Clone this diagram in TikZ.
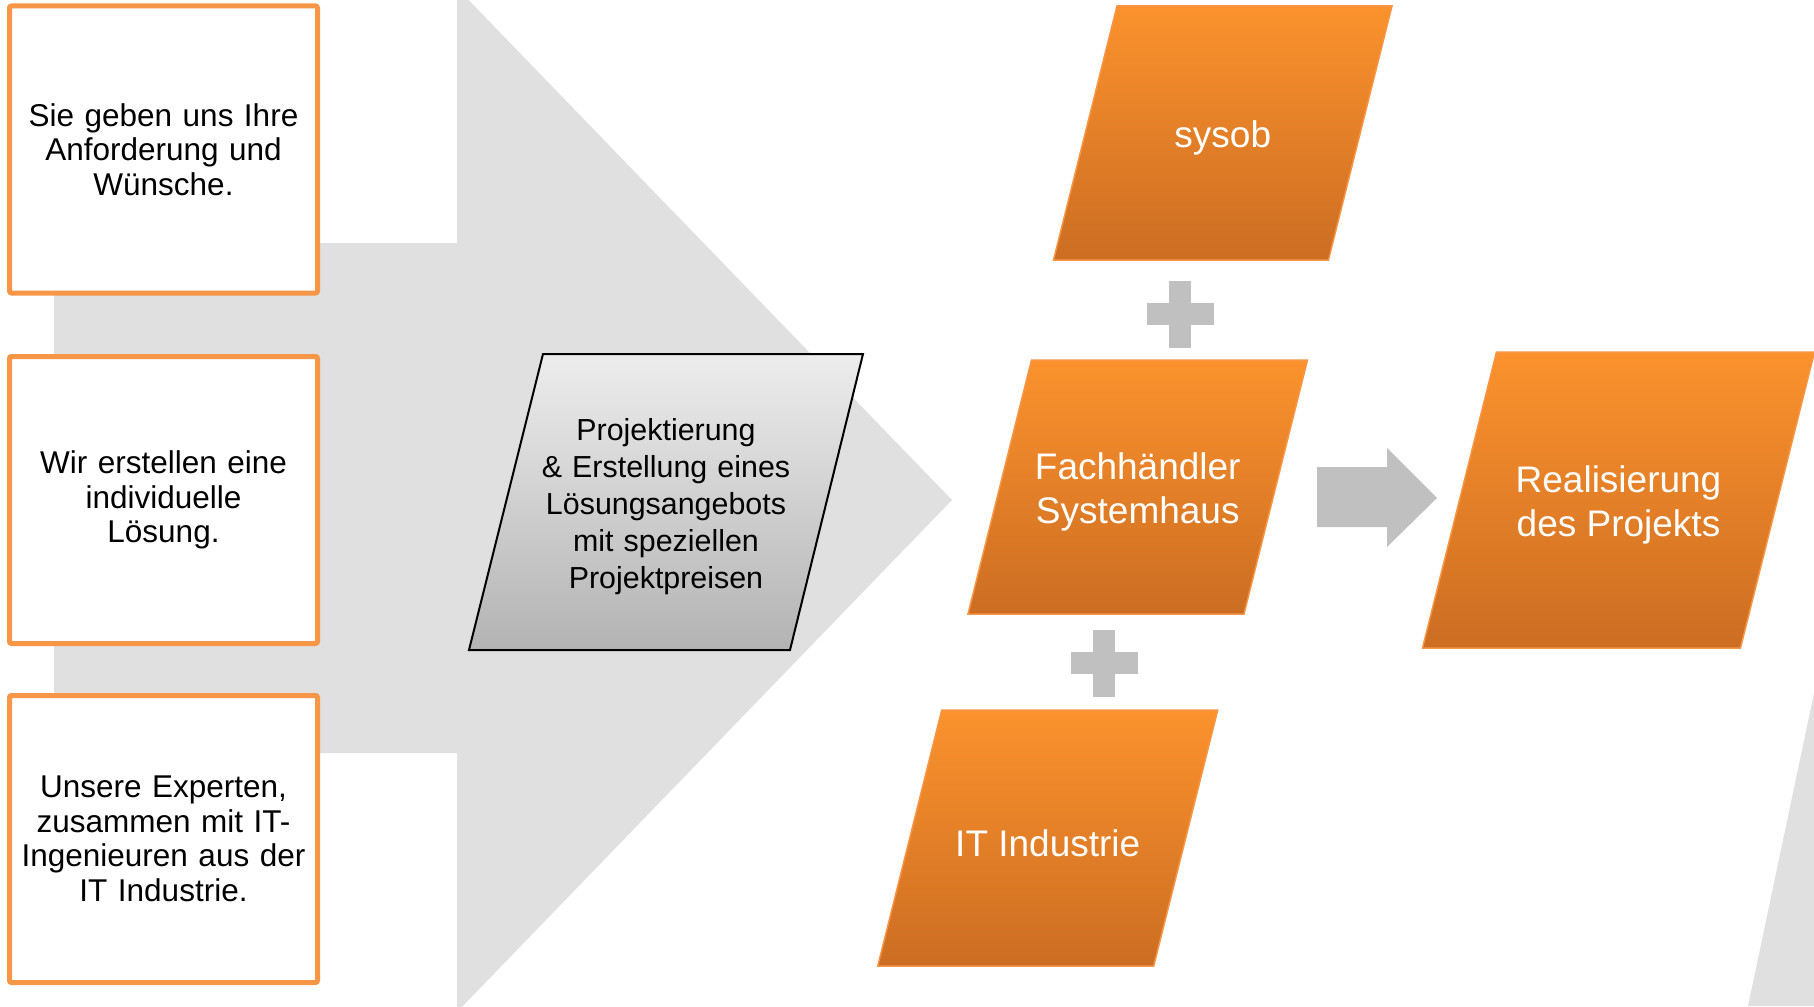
\documentclass[tikz,border=0pt]{standalone}
\usepackage{fontspec}
\setmainfont{Liberation Sans}
\usetikzlibrary{positioning}

\definecolor{boxorange}{HTML}{F79646}
\definecolor{paratop}{HTML}{FB922D}
\definecolor{parabottom}{HTML}{CC6D22}
\definecolor{bggray}{HTML}{E0E0E0}
\definecolor{plusgray}{HTML}{C0C0C0}
\definecolor{greytop}{HTML}{EDEDED}
\definecolor{greybottom}{HTML}{B3B3B3}

\begin{document}
\begin{tikzpicture}[x=1pt,y=-1pt]
    \tikzstyle{stepbox}=[rectangle,draw=boxorange,line width=5pt,fill=white,rounded corners=2pt,minimum width=308pt,minimum height=287pt,inner sep=0pt,text width=300pt,align=center,font=\fontsize{31.5}{34.5}\selectfont]
    \tikzstyle{offer}=[text width=320pt,align=center,yshift=-5pt,font=\fontsize{30.4}{37}\selectfont]
    \tikzstyle{partner}=[text=white,align=center,yshift=-5pt,font=\fontsize{37}{44}\selectfont]
    \tikzstyle{orangepara}=[top color=paratop,bottom color=parabottom,draw=boxorange,line width=1.5pt]

    \useasboundingbox (0,0) rectangle (1814,1006);
    \clip (0,0) rectangle (1814,1006);

    % big arrow in the back
    \fill[bggray] (54,243) -- (457,243) -- (457,-12) -- (952,500) -- (457,1012) -- (457,753) -- (54,753) -- cycle;
    \fill[bggray] (1814,693) -- (1748,1006) -- (1814,1006) -- cycle;

    \foreach \name/\y/\txt in {wishes/149.5/{Sie geben uns Ihre\\Anforderung und\\Wünsche.},
                               solution/500/{Wir erstellen eine\\individuelle\\Lösung.},
                               experts/839/{Unsere Experten,\\zusammen mit IT-\\Ingenieuren aus der\\IT Industrie.}}
        \node[stepbox] (\name) at (163.5,\y) {\txt};

    \path[top color=greytop,bottom color=greybottom,draw=black,line width=2pt]
        (543,354) -- (863,354) -- (790,650) -- (469,650) -- cycle;
    \node[offer] (offer) at (666,502) {Projektierung\\\& Erstellung eines\\Lösungsangebots\\mit speziellen\\Projektpreisen};

    \foreach \name/\cx/\cy/\w/\h/\txt in {sysob/1222.75/133/275/254/{sysob},
                                          dealer/1137.75/487/276/254/{Fachhändler\\Systemhaus},
                                          industry/1047.75/838/276/256/{IT Industrie},
                                          project/1618.5/500/318/296/{Realisierung\\des Projekts}}
    {
        \path[orangepara] (\cx-\w/2+\h/8,\cy-\h/2) -- (\cx+\w/2+\h/8,\cy-\h/2)
            -- (\cx+\w/2-\h/8,\cy+\h/2) -- (\cx-\w/2-\h/8,\cy+\h/2) -- cycle;
        \node[partner] (\name) at (\cx,\cy) {\txt};
    }

    % plus signs
    \foreach \px/\py in {1180/314, 1104/663} {
        \fill[plusgray] (\px-33.5,\py-11) rectangle (\px+33.5,\py+11);
        \fill[plusgray] (\px-11,\py-33.5) rectangle (\px+11,\py+33.5);
    }

    \fill[plusgray] (1317,467) -- (1387,467) -- (1387,448) -- (1437,498) -- (1387,547) -- (1387,527) -- (1317,527) -- cycle;
\end{tikzpicture}
\end{document}
